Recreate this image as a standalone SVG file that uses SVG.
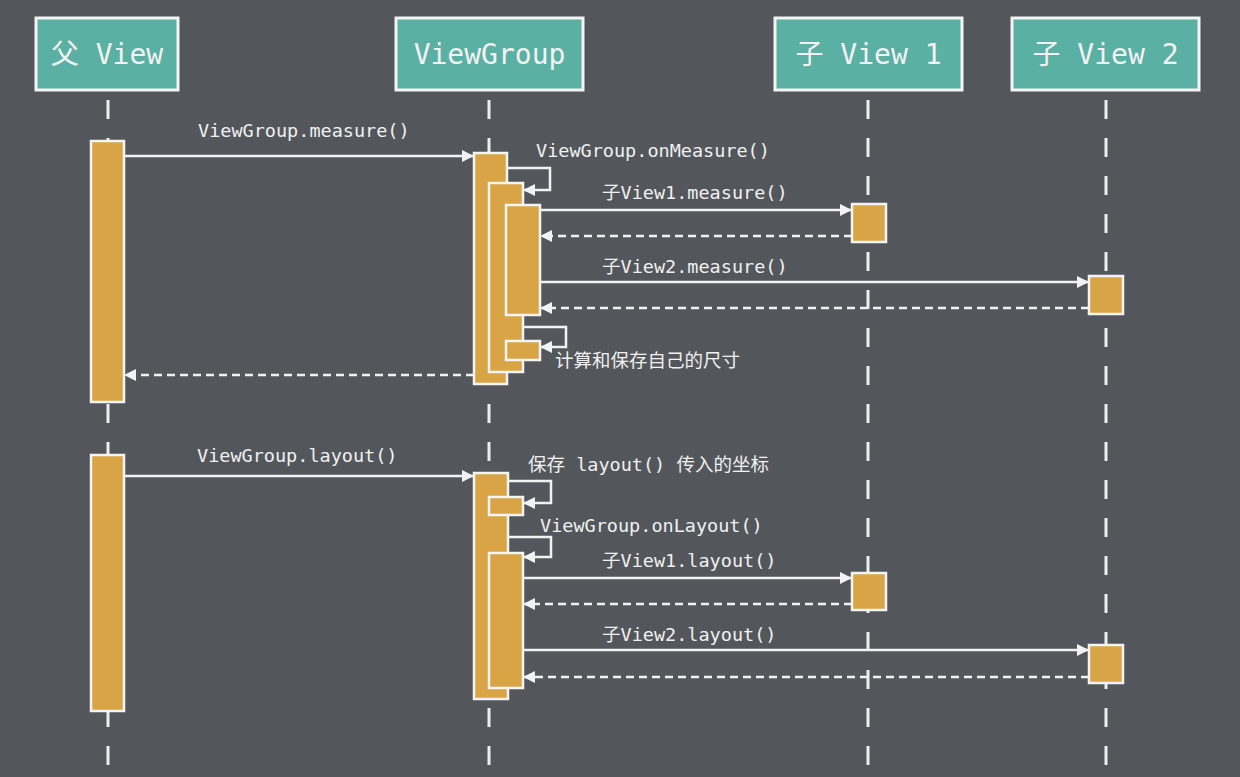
<svg xmlns="http://www.w3.org/2000/svg" width="1240" height="777" viewBox="0 0 1240 777">
<defs>
<style>
.bg{fill:#53575c}
.node rect{fill:#5bb0a4;stroke:#f4f4f4;stroke-width:3}
.node text{font-family:"DejaVu Sans Mono","Noto Sans CJK SC",monospace;font-size:28px;fill:#f2f2f2;text-anchor:middle}
.life{stroke:#eeeeee;stroke-width:3;stroke-dasharray:19 19;fill:none}
.bar{fill:#d8a445;stroke:#f4f4f4;stroke-width:2.5}
.msg{stroke:#f2f2f2;stroke-width:2.5;fill:none}
.ret{stroke:#f2f2f2;stroke-width:2.5;fill:none;stroke-dasharray:8 5}
.lbl{font-family:"DejaVu Sans Mono","Noto Sans CJK SC",monospace;font-size:18.5px;fill:#f0f0f0}
</style>
<marker id="ah" viewBox="0 0 12 12" refX="12" refY="6" markerWidth="13" markerHeight="12" markerUnits="userSpaceOnUse" orient="auto">
<path d="M0,0 L12,6 L0,12 Z" fill="#f2f2f2"/>
</marker>
</defs>
<rect class="bg" x="0" y="0" width="1240" height="777"/>

<g id="lifelines">
<line class="life" x1="108" y1="100" x2="108" y2="777"/>
<line class="life" x1="489" y1="100" x2="489" y2="777"/>
<line class="life" x1="868" y1="100" x2="868" y2="777"/>
<line class="life" x1="1106" y1="100" x2="1106" y2="777"/>
</g>

<g id="node-parent" class="node">
<rect x="36" y="18" width="142" height="72"/>
<text x="107" y="64">父 View</text>
</g>
<g id="node-viewgroup" class="node">
<rect x="396" y="18" width="187" height="72"/>
<text x="489.5" y="64">ViewGroup</text>
</g>
<g id="node-child1" class="node">
<rect x="775" y="18" width="187" height="72"/>
<text x="868.5" y="64">子 View 1</text>
</g>
<g id="node-child2" class="node">
<rect x="1012" y="18" width="187" height="72"/>
<text x="1105.5" y="64">子 View 2</text>
</g>

<g id="activations">
<rect class="bar" x="91" y="141" width="33" height="261"/>
<rect class="bar" x="91" y="455" width="33" height="256"/>
<rect class="bar" x="474" y="153" width="33" height="231"/>
<rect class="bar" x="489" y="183" width="34" height="189"/>
<rect class="bar" x="506" y="205" width="34" height="110"/>
<rect class="bar" x="506" y="341" width="34" height="19"/>
<rect class="bar" x="852" y="204" width="34" height="38"/>
<rect class="bar" x="1089" y="276" width="34" height="38"/>
<rect class="bar" x="474" y="473" width="34" height="226"/>
<rect class="bar" x="489" y="497" width="34" height="18"/>
<rect class="bar" x="489" y="553" width="34" height="135"/>
<rect class="bar" x="852" y="573" width="34" height="37"/>
<rect class="bar" x="1089" y="645" width="34" height="38"/>
</g>

<g id="connectors">
<line class="msg" x1="124" y1="156" x2="474" y2="156" marker-end="url(#ah)"/>
<polyline class="msg" points="507,168 550,168 550,190 523,190" marker-end="url(#ah)"/>
<line class="msg" x1="540" y1="210" x2="852" y2="210" marker-end="url(#ah)"/>
<line class="ret" x1="852" y1="236" x2="540" y2="236" marker-end="url(#ah)"/>
<line class="msg" x1="540" y1="282" x2="1089" y2="282" marker-end="url(#ah)"/>
<line class="ret" x1="1089" y1="308" x2="540" y2="308" marker-end="url(#ah)"/>
<polyline class="msg" points="523,327 566,327 566,347 540,347" marker-end="url(#ah)"/>
<line class="ret" x1="474" y1="375" x2="124" y2="375" marker-end="url(#ah)"/>

<line class="msg" x1="124" y1="476" x2="474" y2="476" marker-end="url(#ah)"/>
<polyline class="msg" points="508,481 551,481 551,503 523,503" marker-end="url(#ah)"/>
<polyline class="msg" points="508,537 551,537 551,557 523,557" marker-end="url(#ah)"/>
<line class="msg" x1="523" y1="578" x2="852" y2="578" marker-end="url(#ah)"/>
<line class="ret" x1="852" y1="604" x2="523" y2="604" marker-end="url(#ah)"/>
<line class="msg" x1="523" y1="650" x2="1089" y2="650" marker-end="url(#ah)"/>
<line class="ret" x1="1089" y1="677" x2="523" y2="677" marker-end="url(#ah)"/>
</g>

<g id="labels">
<text class="lbl" x="198" y="137">ViewGroup.measure()</text>
<text class="lbl" x="536" y="157">ViewGroup.onMeasure()</text>
<text class="lbl" x="602" y="199">子View1.measure()</text>
<text class="lbl" x="602" y="273">子View2.measure()</text>
<text class="lbl" x="555" y="367">计算和保存自己的尺寸</text>
<text class="lbl" x="197" y="462">ViewGroup.layout()</text>
<text class="lbl" x="528" y="471">保存 layout() 传入的坐标</text>
<text class="lbl" x="540" y="532">ViewGroup.onLayout()</text>
<text class="lbl" x="602" y="567">子View1.layout()</text>
<text class="lbl" x="602" y="641">子View2.layout()</text>
</g>
</svg>
